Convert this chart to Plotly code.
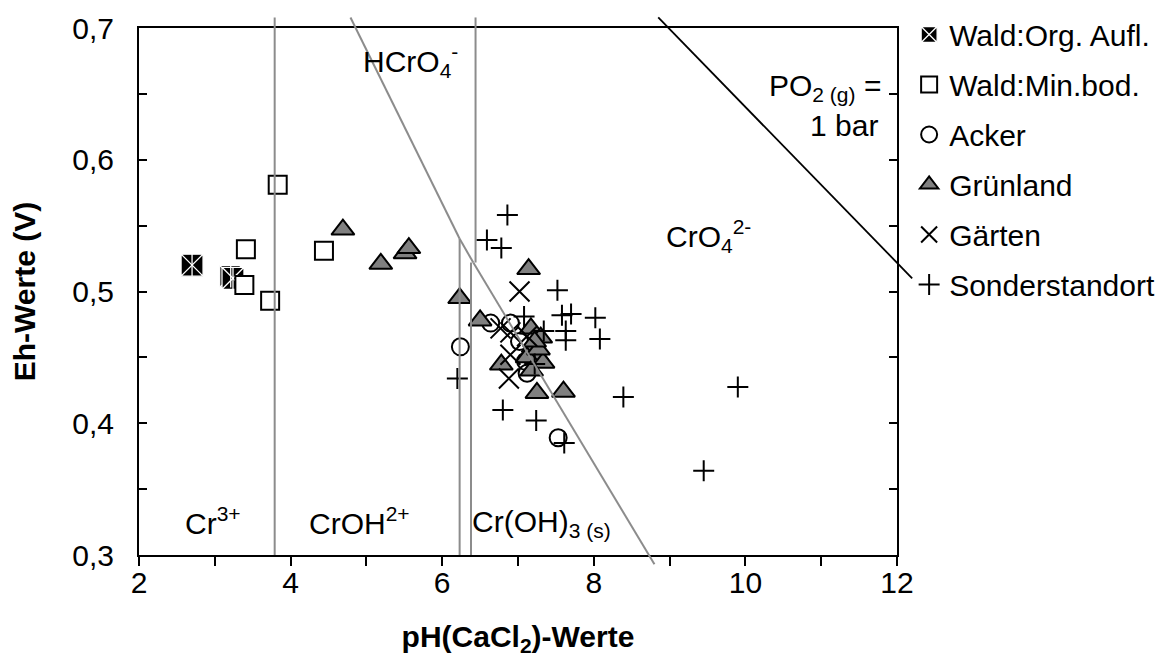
import plotly.graph_objects as go

# ---------------- data ----------------
X_RANGE = [2, 12]
Y_RANGE = [0.3, 0.7]

x_tick_vals = [2, 3, 4, 5, 6, 7, 8, 9, 10, 11, 12]
x_tick_text = ["2", "", "4", "", "6", "", "8", "", "10", "", "12"]
y_tick_vals = [0.3, 0.35, 0.4, 0.45, 0.5, 0.55, 0.6, 0.65, 0.7]
y_tick_text = ["0,3", "", "0,4", "", "0,5", "", "0,6", "", "0,7"]

wald_org_ph = [2.70, 3.21, 3.24]
wald_org_eh = [0.520, 0.5115, 0.510]

wald_min_ph = [3.83, 3.41, 3.39, 3.73, 4.44]
wald_min_eh = [0.581, 0.532, 0.505, 0.493, 0.531]

acker_ph = [6.24, 6.64, 6.90, 7.02, 7.10, 7.12, 7.53]
acker_eh = [0.458, 0.476, 0.476, 0.462, 0.447, 0.438, 0.389]

gruen_ph = [4.69, 5.19, 5.51, 5.56, 6.23, 6.50, 7.14, 6.78, 7.25, 7.60,
            7.17, 7.30, 7.20, 7.25, 7.12, 7.33, 7.18, 7.27, 7.22]
gruen_eh = [0.547, 0.521, 0.529, 0.533, 0.495, 0.478, 0.517, 0.4445, 0.423, 0.424,
            0.472, 0.465, 0.458, 0.452, 0.450, 0.446, 0.440, 0.456, 0.462]

gaerten_ph = [7.02, 6.77, 6.90, 6.90, 6.88, 7.12]
gaerten_eh = [0.500, 0.472, 0.469, 0.452, 0.434, 0.466]

sonder_ph = [6.86, 6.59, 6.78, 7.52, 7.58, 7.70, 8.02, 8.08, 7.63, 7.63,
             7.34, 7.08, 6.20, 6.80, 7.24, 7.61, 8.39, 9.90, 9.45, 7.22]
sonder_eh = [0.558, 0.539, 0.533, 0.501, 0.482, 0.483, 0.480, 0.464, 0.470, 0.463,
             0.470, 0.481, 0.434, 0.410, 0.402, 0.385, 0.420, 0.4275, 0.364, 0.445]

# stability-field boundaries (pH, Eh)
diag_ph = [4.79, 6.23, 6.41, 8.80]
diag_eh = [0.708, 0.540, 0.522, 0.293]
vert_ph = [3.79, 6.23, 6.38, 6.44]
vert_eh_top = [0.708, 0.540, 0.522, 0.708]
vert_eh_bot = [0.300, 0.300, 0.300, 0.522]
po2_ph = [8.85, 12.2]
po2_eh = [0.708, 0.510]

# ---------------- figure ----------------
FONT = "Liberation Sans, Arial, sans-serif"
FS = 30

fig = go.Figure()

fig.add_trace(go.Scatter(
    x=wald_org_ph, y=wald_org_eh, mode="markers", name="Wald:Org. Aufl.",
    legendgroup="org",
    marker=dict(symbol="square-x", size=22, color="black",
                line=dict(color="white", width=1.3))))
fig.add_trace(go.Scatter(
    x=wald_org_ph, y=wald_org_eh, mode="markers", showlegend=False,
    legendgroup="org", hoverinfo="skip",
    marker=dict(symbol="line-ns-open", size=16, color="white",
                line=dict(color="white", width=1.3))))
fig.add_trace(go.Scatter(
    x=wald_min_ph, y=wald_min_eh, mode="markers", name="Wald:Min.bod.",
    legendgroup="min",
    marker=dict(symbol="square", size=18, color="white",
                line=dict(color="black", width=2))))
fig.add_trace(go.Scatter(
    x=acker_ph, y=acker_eh, mode="markers", name="Acker",
    legendgroup="acker",
    marker=dict(symbol="circle", size=17, color="rgba(255,255,255,0)",
                line=dict(color="black", width=2))))
fig.add_trace(go.Scatter(
    x=gruen_ph, y=gruen_eh, mode="markers", name="Grünland",
    legendgroup="gruen",
    marker=dict(symbol="triangle-up", size=20, color="#808080",
                line=dict(color="black", width=2))))
fig.add_trace(go.Scatter(
    x=gaerten_ph, y=gaerten_eh, mode="markers", name="Gärten",
    legendgroup="gaerten",
    marker=dict(symbol="x-thin-open", size=20, color="black",
                line=dict(color="black", width=2))))
fig.add_trace(go.Scatter(
    x=sonder_ph, y=sonder_eh, mode="markers", name="Sonderstandort",
    legendgroup="sonder",
    marker=dict(symbol="cross-thin-open", size=15, color="black",
                line=dict(color="black", width=2))))


def fx(v):
    return (v - X_RANGE[0]) / (X_RANGE[1] - X_RANGE[0])


def fy(v):
    return (v - Y_RANGE[0]) / (Y_RANGE[1] - Y_RANGE[0])


shapes = []
GRAY = "#8c8c8c"
for i in range(len(diag_ph) - 1):
    shapes.append(dict(type="line", xref="x domain", yref="y domain",
                       x0=fx(diag_ph[i]), y0=fy(diag_eh[i]),
                       x1=fx(diag_ph[i + 1]), y1=fy(diag_eh[i + 1]),
                       line=dict(color=GRAY, width=2)))
for p, t, b in zip(vert_ph, vert_eh_top, vert_eh_bot):
    shapes.append(dict(type="line", xref="x domain", yref="y domain",
                       x0=fx(p), y0=fy(b), x1=fx(p), y1=fy(t),
                       line=dict(color=GRAY, width=2)))
shapes.append(dict(type="line", xref="x domain", yref="y domain",
                   x0=fx(po2_ph[0]), y0=fy(po2_eh[0]),
                   x1=fx(po2_ph[1]), y1=fy(po2_eh[1]),
                   line=dict(color="black", width=1.8)))

ann_font = dict(family=FONT, size=FS, color="black")
annotations = [
    dict(x=2.58, y=0.326, text="Cr<sup>3+</sup>", xanchor="left"),
    dict(x=4.22, y=0.326, text="CrOH<sup>2+</sup>", xanchor="left"),
    dict(x=6.37, y=0.324, text="Cr(OH)<sub>3 (s)</sub>", xanchor="left"),
    dict(x=4.93, y=0.675, text="HCrO<sub>4</sub><sup>-</sup>", xanchor="left"),
    dict(x=8.93, y=0.542, text="CrO<sub>4</sub><sup>2-</sup>", xanchor="left"),
    dict(x=11.82, y=0.655, text="PO<sub>2 (g)</sub> =", xanchor="right"),
    dict(x=11.78, y=0.626, text="1 bar", xanchor="right"),
]
for a in annotations:
    a.update(xref="x", yref="y", showarrow=False, yanchor="middle", font=ann_font)

fig.update_layout(
    width=1165, height=656,
    margin=dict(l=131, r=276, t=20, b=109, autoexpand=False),
    paper_bgcolor="white", plot_bgcolor="white",
    separators=",.",
    font=dict(family=FONT, size=FS, color="black"),
    showlegend=True,
    legend=dict(x=1.016, y=1.037, xanchor="left", yanchor="top",
                font=dict(family=FONT, size=FS, color="black"),
                tracegroupgap=8, traceorder="grouped",
                bgcolor="rgba(0,0,0,0)", itemwidth=30),
    shapes=shapes,
    annotations=annotations,
    xaxis=dict(range=X_RANGE, tickmode="array", tickvals=x_tick_vals, ticktext=x_tick_text,
               ticks="outside", ticklen=9, tickwidth=2, tickcolor="black",
               showline=True, linecolor="black", linewidth=2, mirror=True,
               showgrid=False, zeroline=False, ticklabelstandoff=-9,
               tickfont=dict(family=FONT, size=FS, color="black"),
               title=dict(text="pH(CaCl<sub>2</sub>)-Werte",
                          font=dict(family=FONT, size=FS, color="black", weight="bold"),
                          standoff=28)),
    yaxis=dict(range=Y_RANGE, tickmode="array", tickvals=y_tick_vals, ticktext=y_tick_text,
               ticks="inside", ticklen=8, tickwidth=2, tickcolor="black",
               showline=True, linecolor="black", linewidth=2, mirror="ticks",
               showgrid=False, zeroline=False, ticklabelstandoff=17,
               tickfont=dict(family=FONT, size=FS, color="black"),
               title=dict(text="Eh-Werte (V)",
                          font=dict(family=FONT, size=FS, color="black", weight="bold"),
                          standoff=28)),
)

fig.write_html("out.html")
